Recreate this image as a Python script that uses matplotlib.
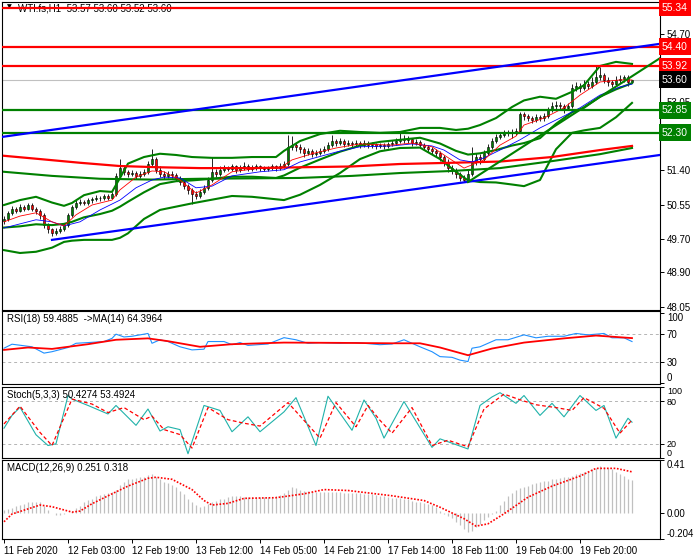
#WTI.fs H1 chart with indicators, redrawn from a MetaTrader screenshot
import numpy as np
import matplotlib.pyplot as plt

plt.rcParams['font.family'] = ['Liberation Sans', 'DejaVu Sans']
plt.rcParams['font.size'] = 7

#candles (one per H1 bar), open = previous close
first_open = 50.15
closes = [50.20, 50.35, 50.45, 50.40, 50.50, 50.45, 50.55, 50.45, 50.40, 50.30,
          50.05, 49.95, 49.85, 49.90, 49.95, 50.05, 50.30, 50.50, 50.60, 50.62,
          50.60, 50.65, 50.68, 50.72, 50.70, 50.75, 50.72, 50.80, 51.25, 51.45,
          51.35, 51.30, 51.32, 51.25, 51.30, 51.35, 51.55, 51.65, 51.40, 51.30,
          51.25, 51.30, 51.28, 51.20, 51.10, 51.00, 50.90, 50.80, 50.75, 50.85,
          50.95, 51.15, 51.35, 51.30, 51.40, 51.45, 51.42, 51.48, 51.40, 51.45,
          51.50, 51.42, 51.45, 51.48, 51.45, 51.42, 51.45, 51.48, 51.45, 51.50,
          51.55, 51.95, 52.00, 51.95, 51.90, 51.80, 51.85, 51.78, 51.82, 51.85,
          51.90, 52.00, 52.10, 52.05, 52.10, 52.02, 52.05, 52.03, 52.05, 52.00,
          52.05, 52.00, 52.02, 51.98, 52.00, 51.98, 52.02, 52.05, 52.10, 52.15,
          52.12, 52.15, 52.05, 52.08, 52.00, 51.95, 51.90, 51.85, 51.80, 51.70,
          51.60, 51.45, 51.40, 51.30, 51.20, 51.15, 51.30, 51.60, 51.70, 51.65,
          51.80, 51.95, 52.10, 52.20, 52.25, 52.30, 52.30, 52.32, 52.35, 52.75,
          52.70, 52.65, 52.62, 52.68, 52.65, 52.70, 52.85, 52.95, 52.98, 52.95,
          52.90, 52.95, 53.40, 53.45, 53.40, 53.50, 53.45, 53.55, 53.65, 53.70,
          53.60, 53.55, 53.50, 53.60, 53.62, 53.65, 53.55, 53.60]
highs = [50.28, 50.40, 50.52, 50.50, 50.56, 50.55, 50.60, 50.58, 50.50, 50.45,
         50.35, 50.10, 49.98, 49.98, 50.02, 50.10, 50.35, 50.55, 50.66, 50.68,
         50.67, 50.70, 50.74, 50.78, 50.77, 50.82, 50.80, 50.86, 51.32, 51.65,
         51.52, 51.40, 51.40, 51.38, 51.38, 51.42, 51.62, 51.90, 51.70, 51.48,
         51.36, 51.38, 51.36, 51.33, 51.25, 51.15, 51.05, 50.95, 50.88, 50.92,
         51.02, 51.22, 51.70, 51.42, 51.48, 51.52, 51.50, 51.55, 51.52, 51.52,
         51.58, 51.55, 51.52, 51.55, 51.52, 51.50, 51.50, 51.55, 51.52, 51.56,
         51.62, 52.25, 52.22, 52.08, 52.02, 51.95, 51.92, 51.90, 51.88, 51.92,
         51.98, 52.08, 52.25, 52.15, 52.18, 52.14, 52.12, 52.10, 52.12, 52.10,
         52.12, 52.10, 52.08, 52.06, 52.06, 52.05, 52.08, 52.12, 52.18, 52.35,
         52.25, 52.22, 52.18, 52.14, 52.12, 52.05, 52.00, 51.95, 51.90, 51.85,
         51.75, 51.65, 51.52, 51.45, 51.35, 51.28, 51.40, 51.95, 51.80, 51.78,
         51.88, 52.02, 52.18, 52.28, 52.32, 52.38, 52.38, 52.40, 52.42, 52.82,
         52.82, 52.76, 52.72, 52.75, 52.74, 52.78, 52.92, 53.05, 53.08, 53.05,
         53.00, 53.02, 53.48, 53.55, 53.52, 53.58, 53.56, 53.65, 53.95, 53.90,
         53.75, 53.65, 53.60, 53.68, 53.70, 53.72, 53.70, 53.60]
lows = [50.08, 50.15, 50.30, 50.35, 50.36, 50.40, 50.42, 50.40, 50.32, 50.20,
        49.98, 49.85, 49.78, 49.80, 49.85, 49.90, 50.00, 50.25, 50.45, 50.55,
        50.55, 50.55, 50.60, 50.63, 50.64, 50.66, 50.66, 50.68, 50.75, 51.20,
        51.28, 51.22, 51.25, 51.18, 51.20, 51.25, 51.30, 51.48, 51.32, 51.22,
        51.18, 51.20, 51.20, 51.12, 51.02, 50.92, 50.82, 50.57, 50.68, 50.70,
        50.80, 50.90, 51.10, 51.22, 51.25, 51.35, 51.36, 51.38, 51.33, 51.35,
        51.40, 51.36, 51.37, 51.40, 51.38, 51.36, 51.37, 51.40, 51.38, 51.40,
        51.45, 51.50, 51.88, 51.86, 51.82, 51.72, 51.75, 51.72, 51.73, 51.76,
        51.80, 51.85, 51.95, 51.98, 52.00, 51.95, 51.97, 51.96, 51.98, 51.93,
        51.95, 51.93, 51.94, 51.90, 51.92, 51.90, 51.93, 51.97, 52.00, 52.05,
        52.05, 52.06, 51.98, 52.00, 51.93, 51.88, 51.83, 51.78, 51.72, 51.62,
        51.50, 51.35, 51.30, 51.20, 51.12, 51.10, 51.12, 51.25, 51.52, 51.55,
        51.60, 51.75, 51.90, 52.05, 52.15, 52.20, 52.22, 52.18, 52.25, 52.30,
        52.62, 52.58, 52.55, 52.56, 52.58, 52.60, 52.65, 52.80, 52.88, 52.85,
        52.78, 52.85, 52.90, 53.32, 53.30, 53.35, 53.38, 53.40, 53.50, 53.58,
        53.52, 53.45, 53.42, 53.45, 53.52, 53.55, 53.45, 53.52]

#bollinger bands (read at these bars)
bb_bars = [0, 4, 8, 12, 15, 17, 20, 24, 27, 29, 31, 35, 39, 43, 47, 52, 57, 62, 68, 70,
           74, 79, 84, 89, 94, 99, 104, 109, 113, 116, 119, 123, 127, 130, 134, 138, 142,
           145, 149, 153, 157]
bb_upper = [50.54, 50.66, 50.74, 50.60, 50.52, 50.59, 50.78, 50.88, 50.86, 51.20, 51.55,
            51.71, 51.79, 51.76, 51.71, 51.69, 51.69, 51.71, 51.71, 51.86, 52.10, 52.27,
            52.35, 52.32, 52.30, 52.32, 52.42, 52.42, 52.37, 52.40, 52.49, 52.66, 52.93,
            53.09, 53.18, 53.13, 53.30, 53.46, 53.93, 54.03, 53.98]
bb_mid = [49.99, 50.02, 50.07, 50.05, 50.08, 50.13, 50.24, 50.32, 50.40, 50.50, 50.62,
          50.85, 51.05, 51.12, 51.14, 51.18, 51.23, 51.23, 51.20, 51.26, 51.45, 51.65,
          51.84, 51.99, 52.08, 52.13, 52.18, 52.04, 51.86, 51.77, 51.80, 51.88, 51.99,
          52.05, 52.17, 52.52, 52.80, 52.91, 53.18, 53.36, 53.51]
bb_lower = [49.44, 49.37, 49.40, 49.50, 49.64, 49.67, 49.69, 49.69, 49.69, 49.74, 49.85,
            50.20, 50.42, 50.50, 50.58, 50.67, 50.76, 50.74, 50.68, 50.66, 50.79, 51.03,
            51.32, 51.66, 51.85, 51.93, 51.94, 51.66, 51.35, 51.14, 51.10, 51.09, 51.04,
            51.00, 51.15, 51.90, 52.30, 52.36, 52.42, 52.68, 53.03]

#slow moving averages (thick)
slow_red_bars = [0, 9, 19, 29, 39, 49, 62, 74, 87, 99, 112, 124, 137, 149, 157]
slow_red = [51.74, 51.66, 51.57, 51.49, 51.46, 51.44, 51.44, 51.46, 51.48, 51.54, 51.57,
            51.60, 51.71, 51.88, 51.98]
slow_green_bars = [0, 12, 24, 37, 49, 62, 74, 87, 99, 112, 124, 137, 149, 157]
slow_green = [51.35, 51.25, 51.18, 51.16, 51.18, 51.19, 51.20, 51.25, 51.32, 51.37, 51.44,
              51.61, 51.78, 51.93]

#fast moving averages (thin)
fast_red_bars = [0, 4, 8, 12, 15, 18, 22, 27, 29, 33, 37, 40, 44, 48, 52, 57, 64, 69, 72,
                 77, 83, 89, 97, 102, 107, 110, 115, 120, 124, 128, 130, 135, 140, 144,
                 149, 154, 157]
fast_red = [50.13, 50.27, 50.35, 50.13, 50.03, 50.30, 50.54, 50.66, 50.91, 51.22, 51.37,
            51.35, 51.15, 50.83, 51.03, 51.35, 51.44, 51.44, 51.64, 51.79, 51.93, 52.03,
            52.00, 52.05, 51.96, 51.76, 51.44, 51.64, 52.00, 52.22, 52.49, 52.66, 52.91,
            53.22, 53.54, 53.59, 53.59]
fast_blue_bars = [0, 4, 8, 12, 15, 19, 24, 29, 33, 37, 40, 44, 48, 52, 57, 64, 70, 74, 83,
                  89, 97, 102, 107, 110, 114, 117, 120, 124, 129, 134, 139, 144, 149, 154,
                  157]
fast_blue = [49.98, 50.08, 50.18, 50.13, 50.03, 50.13, 50.42, 50.66, 50.96, 51.15, 51.22,
             51.20, 50.96, 51.00, 51.25, 51.35, 51.40, 51.59, 51.83, 51.96, 51.98, 52.03,
             51.98, 51.88, 51.64, 51.59, 51.69, 51.88, 52.13, 52.42, 52.66, 52.91, 53.22,
             53.42, 53.49]

#drawn objects
res_levels = [55.34, 54.40, 53.92]
sup_levels = [52.85, 52.30]
last_price = 53.60
up_line_bars = [-0.5, 164]
up_line = [52.20, 54.47]
low_line_bars = [12, 164]
low_line = [49.69, 51.76]
green_line_bars = [116, 164]
green_line = [51.10, 54.12]

#RSI(18) and its MA(14)
rsi_bars = [0, 2, 7, 10, 12, 16, 18, 21, 25, 27, 28, 30, 32, 36, 37, 39, 41, 44, 47, 50,
            51, 55, 57, 59, 61, 66, 70, 73, 76, 79, 84, 88, 94, 97, 100, 104, 107, 109,
            112, 114, 116, 117, 119, 123, 126, 130, 133, 136, 140, 143, 146, 150, 152,
            155, 157]
rsi = [50, 55.7, 52, 43, 45, 51, 57, 58, 59.5, 64, 70, 66, 67, 71, 57, 62, 59.5, 52, 47.6,
       48.6, 59.5, 59.5, 55, 58, 54, 56, 65, 62, 57, 58, 57, 58, 55, 56, 62, 52, 45, 38,
       37, 33, 31, 50, 52, 62, 62, 69, 64.8, 67, 67, 71, 69, 71, 64.8, 64.8, 59.49]
rsi_ma_bars = [0, 6, 12, 21, 28, 36, 41, 49, 57, 70, 84, 97, 104, 109, 116, 122, 130, 140,
               148, 153, 157]
rsi_ma = [47.6, 51, 49, 55.7, 62, 64, 60, 52, 55.7, 58, 57.6, 57, 57, 51, 40, 49.5, 58, 64,
          68, 66, 64.40]

#Stochastic(5,3,3)
stoch_bars = [0, 2, 4, 8, 11, 13, 16, 17, 21, 26, 28, 33, 36, 39, 41, 44, 46, 50, 54, 57,
              61, 64, 70, 73, 78, 81, 87, 90, 93, 95, 100, 107, 109, 116, 119, 122, 124,
              128, 130, 134, 137, 140, 144, 148, 150, 153, 156, 157]
stoch_k = [42, 60, 71.5, 32.7, 17.6, 20, 88, 83, 74, 62, 74, 46, 69, 38, 44, 40, 6, 74, 67,
           37, 58, 37, 65, 85, 17.6, 87, 39, 81.7, 56, 28, 79.5, 15, 27, 12.7, 74, 86, 92,
           77, 88, 60, 77, 58, 88, 67, 74, 28, 56, 50.43]
stoch_d_bars = [0, 4, 9, 12, 17, 22, 26, 30, 35, 37, 40, 44, 47, 51, 56, 60, 64, 71, 79,
                83, 88, 91, 94, 97, 102, 107, 111, 116, 120, 125, 129, 133, 138, 142, 145,
                150, 154, 157]
stoch_d = [48, 73, 36, 17.6, 83, 76, 64, 71, 54, 59, 40, 33, 14, 71, 54, 49, 45, 78, 28,
           78, 44, 74, 53, 35, 71, 17.6, 25, 15.8, 69, 90, 82, 75, 71, 67, 85, 70, 35,
           53.49]

#MACD(12,26,9): histogram for every bar, signal read at some bars
macd_hist = [0.02, 0.03, 0.04, 0.05, 0.06, 0.07, 0.08, 0.085, 0.085, 0.08,
             0.05, 0.025, 0.0, -0.015, -0.02, -0.01, 0.0, 0.015, 0.035, 0.05,
             0.08, 0.10, 0.11, 0.13, 0.14, 0.145, 0.155, 0.165, 0.18, 0.215,
             0.24, 0.26, 0.265, 0.27, 0.275, 0.28, 0.29, 0.30, 0.275, 0.26,
             0.24, 0.235, 0.215, 0.20, 0.17, 0.145, 0.11, 0.085, 0.06, 0.045,
             0.05, 0.07, 0.085, 0.095, 0.105, 0.11, 0.12, 0.13, 0.13, 0.13,
             0.12, 0.12, 0.12, 0.12, 0.12, 0.12, 0.12, 0.12, 0.13, 0.14,
             0.155, 0.18, 0.20, 0.19, 0.18, 0.17, 0.168, 0.165, 0.165, 0.165,
             0.165, 0.165, 0.165, 0.165, 0.16, 0.155, 0.155, 0.155, 0.155, 0.15,
             0.147, 0.147, 0.147, 0.138, 0.134, 0.13, 0.12, 0.112, 0.112, 0.112,
             0.104, 0.104, 0.095, 0.086, 0.086, 0.078, 0.069, 0.06, 0.043, 0.017,
             -0.009, -0.026, -0.043, -0.069, -0.095, -0.129, -0.151, -0.138, -0.112, -0.086,
             -0.06, -0.035, -0.009, 0.017, 0.06, 0.095, 0.13, 0.155, 0.173, 0.19,
             0.198, 0.207, 0.224, 0.233, 0.242, 0.25, 0.25, 0.259, 0.259, 0.268,
             0.276, 0.276, 0.285, 0.302, 0.311, 0.319, 0.328, 0.337, 0.345, 0.362,
             0.354, 0.345, 0.337, 0.319, 0.302, 0.285, 0.265, 0.251]
signal_bars = [0, 2, 6, 9, 12, 17, 19, 22, 27, 31, 36, 38, 42, 47, 50, 52, 56, 60, 68, 75,
               80, 86, 97, 105, 109, 115, 118, 121, 125, 131, 137, 144, 148, 153, 157]
macd_signal = [-0.07, -0.01, 0.03, 0.06, 0.047, 0.005, 0.013, 0.07, 0.147, 0.207, 0.268,
               0.276, 0.26, 0.18, 0.095, 0.06, 0.073, 0.112, 0.117, 0.147, 0.18, 0.173,
               0.132, 0.095, 0.043, -0.046, -0.104, -0.086, -0.008, 0.121, 0.207, 0.285,
               0.345, 0.345, 0.318]

date_bars = [0, 16, 32, 48, 64, 80, 96, 112, 128, 144]
date_labels = ['11 Feb 2020', '12 Feb 03:00', '12 Feb 19:00', '13 Feb 12:00', '14 Feb 05:00',
               '14 Feb 21:00', '17 Feb 14:00', '18 Feb 11:00', '19 Feb 04:00', '19 Feb 20:00']

GREEN = '#008000'

fig = plt.figure(figsize=(7, 5.6), dpi=100)
W = 658 / 700
ax = fig.add_axes([2 / 700, 1 - 310 / 560, W, 308 / 560])
ax_rsi = fig.add_axes([2 / 700, 1 - 384 / 560, W, 73 / 560], sharex=ax)
ax_st = fig.add_axes([2 / 700, 1 - 458 / 560, W, 71 / 560], sharex=ax)
ax_m = fig.add_axes([2 / 700, 1 - 539 / 560, W, 79 / 560], sharex=ax)

#candles
x = np.arange(len(closes))
opens = np.array([first_open] + closes[:-1])
c = np.array(closes)
up = c >= opens
body = np.where(np.abs(c - opens) < 0.01, 0.01, c - opens)
ax.vlines(x, lows, highs, color='black', lw=0.6, zorder=2)
ax.bar(x, body, bottom=opens, width=0.7, color=np.where(up, GREEN, 'red'),
       edgecolor='black', linewidth=0.4, zorder=3)

#indicator lines
for yy in (bb_upper, bb_mid, bb_lower):
    ax.plot(bb_bars, yy, color=GREEN, lw=1.5, zorder=4)
ax.plot(slow_red_bars, slow_red, color='red', lw=1.6, zorder=4)
ax.plot(slow_green_bars, slow_green, color=GREEN, lw=1.5, zorder=4)
ax.plot(fast_blue_bars, fast_blue, color='blue', lw=0.6, zorder=4)
ax.plot(fast_red_bars, fast_red, color='red', lw=0.6, zorder=4)

#objects
ax.axhline(last_price, color='#c0c0c0', lw=0.8, zorder=1)
for lv in res_levels:
    ax.axhline(lv, color='red', lw=1.6, zorder=5)
for lv in sup_levels:
    ax.axhline(lv, color=GREEN, lw=1.6, zorder=5)
ax.plot(up_line_bars, up_line, color='blue', lw=1.6, zorder=5)
ax.plot(low_line_bars, low_line, color='blue', lw=1.6, zorder=5)
ax.plot(green_line_bars, green_line, color=GREEN, lw=1.5, zorder=5)

ax.set_xlim(-0.5, 164)
ax.set_ylim(47.98, 55.49)
ax.yaxis.tick_right()
ax.set_yticks([54.70, 53.05, 52.20, 51.40, 50.55, 49.70, 48.90, 48.05])
ax.set_yticklabels(['%.2f' % v for v in ax.get_yticks()])

#price tags on the right
tags = [(lv, 'red') for lv in res_levels] + [(lv, GREEN) for lv in sup_levels] + [(last_price, 'black')]
for lv, col in tags:
    ax.text(1.003, lv, '%.2f' % lv, transform=ax.get_yaxis_transform(), color='white',
            fontsize=7.5, va='center', ha='left', clip_on=False, zorder=10,
            bbox=dict(boxstyle='square,pad=0.32', fc=col, ec='none'))

ax.text(0.008, 0.993, '\u25bc', transform=ax.transAxes, fontsize=4.5, va='top',
        family=['DejaVu Sans'])
ax.text(0.025, 0.995, 'WTI.fs,H1  53.57 53.60 53.52 53.60', transform=ax.transAxes,
        va='top', fontsize=7)

#RSI
ax_rsi.axhline(70, color='#b4b4b4', lw=0.7, ls=(0, (3, 3)))
ax_rsi.axhline(30, color='#b4b4b4', lw=0.7, ls=(0, (3, 3)))
ax_rsi.plot(rsi_bars, rsi, color='#1e90ff', lw=0.8)
ax_rsi.plot(rsi_ma_bars, rsi_ma, color='red', lw=1.3)
ax_rsi.set_ylim(-1, 103)
ax_rsi.text(0.008, 0.96, 'RSI(18) 59.4885  ->MA(14) 64.3964', transform=ax_rsi.transAxes, va='top')

#Stochastic
ax_st.axhline(80, color='#b4b4b4', lw=0.7, ls=(0, (3, 3)))
ax_st.axhline(20, color='#b4b4b4', lw=0.7, ls=(0, (3, 3)))
ax_st.plot(stoch_bars, stoch_k, color='#20b2aa', lw=0.8)
ax_st.plot(stoch_d_bars, stoch_d, color='red', lw=0.9, ls=(0, (3, 2)))
ax_st.set_ylim(0, 100)
ax_st.text(0.008, 0.96, 'Stoch(5,3,3) 50.4274 53.4924', transform=ax_st.transAxes, va='top')

#MACD
ax_m.vlines(x, 0, macd_hist, color='#c0c0c0', lw=0.9)
ax_m.plot(signal_bars, macd_signal, color='red', lw=1.2, ls=(0, (1, 1)))
ax_m.set_ylim(-0.204, 0.41)
ax_m.text(0.008, 0.96, 'MACD(12,26,9) 0.251 0.318', transform=ax_m.transAxes, va='top')

#right axis ticks of the sub windows
sub_ticks = [(ax_rsi, [100, 70, 30, 0], ['100', '70', '30', '0']),
             (ax_st, [100, 80, 20, 0], ['100', '80', '20', '0']),
             (ax_m, [0.41, 0.0, -0.204], ['0.41', '0.00', '-0.204'])]
for a, tk, lb in sub_ticks:
    a.yaxis.tick_right()
    a.set_yticks(tk)
    a.set_yticklabels(lb)
    labs = a.get_yticklabels()
    labs[0].set_va('top')
    labs[-1].set_va('bottom')

for a in (ax, ax_rsi, ax_st, ax_m):
    for s in a.spines.values():
        s.set_linewidth(0.8)
    a.tick_params(axis='y', direction='out', length=3, width=0.7, pad=2, labelsize=7)
    a.tick_params(axis='x', length=0, labelbottom=False)

#stoch "20" and "0" sit close together, make them a little smaller
for t in ax_st.get_yticklabels():
    t.set_fontsize(6.5)

ax_m.set_xticks(date_bars)
ax_m.set_xticklabels(date_labels)
ax_m.tick_params(axis='x', length=3, width=0.7, pad=2, labelbottom=True, labelsize=7)
for t in ax_m.get_xticklabels():
    t.set_ha('left')

fig.savefig('out.png', dpi=100)
